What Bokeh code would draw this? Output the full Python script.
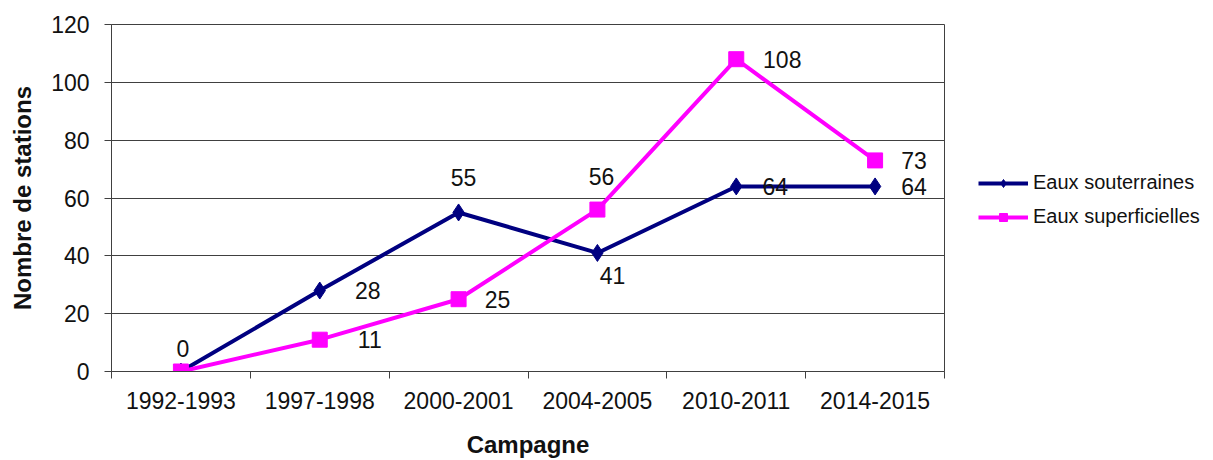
from bokeh.plotting import figure
from bokeh.models import (ColumnDataSource, FixedTicker, Legend, LegendItem,
                          LabelSet, Range1d)
from bokeh.layouts import row
from bokeh.core.properties import value
from bokeh.embed import file_html
from bokeh.resources import INLINE

# ---- data ----
categories = ["1992-1993", "1997-1998", "2000-2001", "2004-2005", "2010-2011", "2014-2015"]
souterraines = [0, 28, 55, 41, 64, 64]
superficielles = [0, 11, 25, 56, 108, 73]
labels_sout = ["0", "28", "55", "41", "64", "64"]
labels_sup = ["", "11", "25", "56", "108", "73"]
y_ticks = [0, 20, 40, 60, 80, 100, 120]

# ---- label offsets (screen px, style only) ----
off_sout_x = [2, 48, 5, 15, 39, 39]
off_sout_y = [23, 0, 35, -23, 0, 0]
off_sup_x = [0, 50, 39, 4, 46, 39]
off_sup_y = [0, 0, 0, 33, 0, 0]

n = len(categories)
xpos = [i + 0.5 for i in range(n)]

FONT = "Liberation Sans"
NAVY = "#000080"
MAGENTA = "#FF00FF"

p = figure(width=946, height=460, output_backend="svg", toolbar_location=None,
           x_range=Range1d(0, n), y_range=Range1d(0, 120),
           min_border_left=111, min_border_right=2, min_border_top=24, min_border_bottom=89)

p.background_fill_color = "white"
p.border_fill_color = "white"
p.outline_line_color = "#404040"
p.outline_line_width = 1

# grid
p.xgrid.visible = False
p.ygrid.ticker = FixedTicker(ticks=y_ticks)
p.ygrid.grid_line_color = "#404040"
p.ygrid.grid_line_width = 1

# y axis
ya = p.yaxis[0]
ya.ticker = FixedTicker(ticks=y_ticks)
ya.major_tick_out = 7
ya.major_tick_in = 0
ya.minor_tick_out = 0
ya.minor_tick_in = 0
ya.axis_line_color = "#404040"
ya.major_tick_line_color = "#404040"
ya.major_label_text_font = FONT
ya.major_label_text_font_size = "23px"
ya.major_label_text_color = "#111111"
ya.major_label_standoff = 15
ya.axis_label = "Nombre de stations"
ya.axis_label_text_font = FONT
ya.axis_label_text_font_size = "24px"
ya.axis_label_text_font_style = "bold"
ya.axis_label_text_color = "#111111"
ya.axis_label_standoff = 12

# x axis
xa = p.xaxis[0]
xa.ticker = FixedTicker(ticks=xpos, minor_ticks=list(range(n + 1)))
xa.major_label_overrides = {x: c for x, c in zip(xpos, categories)}
xa.major_tick_out = 0
xa.major_tick_in = 0
xa.minor_tick_out = 7
xa.minor_tick_in = 0
xa.minor_tick_line_color = "#404040"
xa.axis_line_color = "#404040"
xa.major_label_text_font = FONT
xa.major_label_text_font_size = "23px"
xa.major_label_text_color = "#111111"
xa.major_label_standoff = 13
xa.axis_label = "Campagne"
xa.axis_label_text_font = FONT
xa.axis_label_text_font_size = "24px"
xa.axis_label_text_font_style = "bold"
xa.axis_label_text_color = "#111111"
xa.axis_label_standoff = 19

src_sout = ColumnDataSource(dict(x=xpos, y=souterraines, t=labels_sout, dx=off_sout_x, dy=off_sout_y))
src_sup = ColumnDataSource(dict(x=xpos, y=superficielles, t=labels_sup, dx=off_sup_x, dy=off_sup_y))

p.line("x", "y", source=src_sout, line_color=NAVY, line_width=4)
p.scatter("x", "y", source=src_sout, marker="diamond", size=17, fill_color=NAVY, line_color=NAVY)
p.line("x", "y", source=src_sup, line_color=MAGENTA, line_width=4)
p.scatter("x", "y", source=src_sup, marker="square", size=15, fill_color=MAGENTA, line_color=MAGENTA)

for src in (src_sout, src_sup):
    p.add_layout(LabelSet(x="x", y="y", text="t", source=src, x_offset="dx", y_offset="dy",
                          text_align="center", text_baseline="middle",
                          text_font=value(FONT), text_font_size=value("23px"), text_color="#111111"))

# ---- legend panel (separate figure; its ranges keep the series out of view) ----
p2 = figure(width=267, height=460, output_backend="svg", toolbar_location=None,
            x_range=Range1d(100, 101), y_range=Range1d(1000, 1001),
            min_border=0, min_border_left=0, min_border_right=0,
            min_border_top=0, min_border_bottom=0)
p2.axis.visible = False
p2.grid.visible = False
p2.outline_line_color = None
p2.background_fill_color = "white"
p2.border_fill_color = "white"

g1l = p2.line("x", "y", source=src_sout, line_color=NAVY, line_width=4)
g1m = p2.scatter("x", "y", source=src_sout, marker="diamond", size=10, fill_color=NAVY, line_color=NAVY)
g2l = p2.line("x", "y", source=src_sup, line_color=MAGENTA, line_width=4)
g2m = p2.scatter("x", "y", source=src_sup, marker="square", size=10, fill_color=MAGENTA, line_color=MAGENTA)

legend = Legend(items=[LegendItem(label="Eaux souterraines", renderers=[g1l, g1m]),
                       LegendItem(label="Eaux superficielles", renderers=[g2l, g2m])],
                location=(32, 143), orientation="vertical",
                glyph_width=50, glyph_height=20, label_standoff=5, spacing=11,
                padding=0, margin=0, border_line_color=None, background_fill_alpha=0,
                label_text_font=FONT, label_text_font_size="20px", label_text_color="#111111",
                label_height=20)
p2.add_layout(legend, "center")

layout = row(p, p2, spacing=0)
open("out.html", "w").write(file_html(layout, INLINE))
